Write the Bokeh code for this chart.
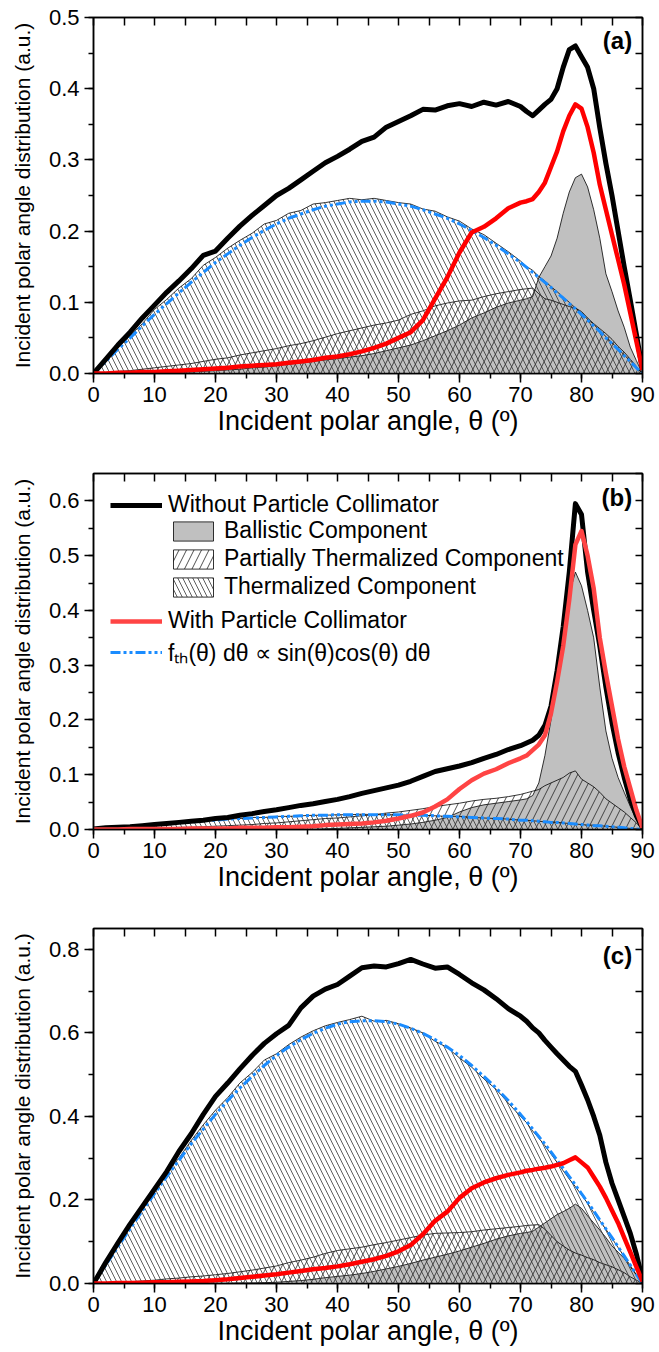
from bokeh.plotting import figure
from bokeh.layouts import column
from bokeh.models import (Range1d, LinearAxis, SingleIntervalTicker, NumeralTickFormatter,
                          CustomJSTickFormatter, Legend, LegendItem, Label)
from bokeh.embed import file_html
from bokeh.resources import INLINE

FONT = "Liberation Sans"

# polar angle grid (degrees)
THETA = [0, 2, 4, 6, 8, 10, 12, 14, 16, 18, 20, 22, 24, 26, 28, 30, 32, 34, 36, 38,
         40, 42, 44, 46, 48, 50, 52, 54, 56, 58, 60, 62, 64, 66, 68,
         70, 71, 72, 73, 74, 75, 76, 77, 78, 79, 80, 81, 82, 83, 84, 85, 86, 87, 88, 89, 90]

# ---------------- panel (a) ----------------
A_TOTAL = [0.000, 0.020, 0.040, 0.058, 0.078, 0.096, 0.114, 0.130, 0.147, 0.166, 0.172, 0.190, 0.207, 0.222, 0.236,
           0.250, 0.260, 0.272, 0.284, 0.296, 0.305, 0.315, 0.326, 0.332, 0.346, 0.354, 0.362, 0.371, 0.370, 0.376,
           0.379, 0.375, 0.381, 0.377, 0.382,
           0.375, 0.368, 0.362, 0.370, 0.378, 0.385, 0.400, 0.430, 0.455, 0.460, 0.445, 0.430, 0.400, 0.345, 0.295,
           0.250, 0.200, 0.150, 0.103, 0.055, 0.005]
A_COLLIM = [0.000, 0.000, 0.001, 0.001, 0.002, 0.002, 0.003, 0.004, 0.005, 0.006, 0.007, 0.008, 0.010, 0.011, 0.012,
            0.013, 0.015, 0.017, 0.019, 0.022, 0.024, 0.027, 0.031, 0.036, 0.042, 0.050, 0.058, 0.075, 0.105, 0.135,
            0.170, 0.198, 0.206, 0.218, 0.232,
            0.240, 0.242, 0.245, 0.255, 0.268, 0.290, 0.312, 0.340, 0.362, 0.378, 0.372, 0.346, 0.310, 0.265, 0.230,
            0.195, 0.160, 0.125, 0.085, 0.045, 0.005]
A_BALLISTIC = [0, 0, 0, 0, 0, 0.001, 0.001, 0.002, 0.002, 0.003, 0.004, 0.005, 0.006, 0.008, 0.009, 0.011, 0.013,
               0.015, 0.017, 0.019, 0.021, 0.023, 0.025, 0.028, 0.032, 0.036, 0.040, 0.046, 0.053, 0.060, 0.068,
               0.078, 0.085, 0.093, 0.099,
               0.103, 0.105, 0.108, 0.135, 0.150, 0.165, 0.190, 0.225, 0.255, 0.275, 0.280, 0.262, 0.230, 0.190,
               0.140, 0.115, 0.088, 0.065, 0.037, 0.018, 0.000]
A_PARTIAL = [0, 0.001, 0.003, 0.004, 0.006, 0.008, 0.010, 0.012, 0.014, 0.017, 0.020, 0.022, 0.026, 0.029, 0.032,
             0.035, 0.039, 0.042, 0.046, 0.051, 0.056, 0.060, 0.064, 0.068, 0.071, 0.075, 0.083, 0.088, 0.095, 0.099,
             0.102, 0.103, 0.108, 0.112, 0.115,
             0.118, 0.119, 0.120, 0.112, 0.105, 0.103, 0.100, 0.097, 0.094, 0.092, 0.087, 0.078, 0.070, 0.063, 0.056,
             0.048, 0.038, 0.030, 0.020, 0.010, 0.000]
A_THERMAL = [0, 0.018, 0.036, 0.053, 0.070, 0.090, 0.104, 0.120, 0.133, 0.152, 0.163, 0.176, 0.187, 0.197, 0.210,
             0.215, 0.225, 0.229, 0.238, 0.240, 0.243, 0.246, 0.244, 0.246, 0.243, 0.240, 0.238, 0.231, 0.228, 0.220,
             0.214, 0.203, 0.195, 0.183, 0.171,
             0.158, 0.150, 0.145, 0.136, 0.130, 0.122, 0.115, 0.107, 0.100, 0.092, 0.085, 0.076, 0.069, 0.060, 0.052,
             0.043, 0.035, 0.026, 0.018, 0.009, 0.000]
A_FIT = [0, 0.017, 0.034, 0.050, 0.067, 0.083, 0.098, 0.113, 0.128, 0.142, 0.156, 0.168, 0.180, 0.191, 0.201, 0.210,
         0.218, 0.224, 0.230, 0.235, 0.238, 0.241, 0.242, 0.242, 0.241, 0.238, 0.235, 0.230, 0.224, 0.218, 0.210,
         0.201, 0.191, 0.180, 0.168,
         0.156, 0.149, 0.142, 0.135, 0.128, 0.121, 0.113, 0.106, 0.098, 0.091, 0.083, 0.075, 0.067, 0.059, 0.050,
         0.042, 0.034, 0.025, 0.017, 0.008, 0.000]

# ---------------- panel (b) ----------------
B_TOTAL = [0.001, 0.003, 0.004, 0.005, 0.007, 0.009, 0.011, 0.013, 0.015, 0.017, 0.020, 0.022, 0.026, 0.029, 0.033,
           0.036, 0.040, 0.044, 0.047, 0.051, 0.055, 0.060, 0.066, 0.071, 0.076, 0.081, 0.088, 0.097, 0.106, 0.111,
           0.116, 0.122, 0.130, 0.137, 0.146,
           0.153, 0.158, 0.163, 0.172, 0.190, 0.225, 0.290, 0.370, 0.470, 0.595, 0.575, 0.470, 0.400, 0.335, 0.260,
           0.195, 0.140, 0.095, 0.055, 0.025, 0.003]
B_COLLIM = [0, 0, 0, 0.001, 0.001, 0.001, 0.001, 0.001, 0.002, 0.002, 0.002, 0.002, 0.003, 0.003, 0.003, 0.004,
            0.004, 0.005, 0.006, 0.008, 0.009, 0.010, 0.011, 0.013, 0.016, 0.020, 0.025, 0.031, 0.042, 0.055, 0.074,
            0.090, 0.102, 0.110, 0.121,
            0.130, 0.135, 0.145, 0.155, 0.172, 0.212, 0.270, 0.335, 0.420, 0.520, 0.545, 0.500, 0.440, 0.350, 0.285,
            0.225, 0.165, 0.115, 0.075, 0.035, 0.003]
B_BALLISTIC = [0, 0, 0, 0, 0, 0, 0, 0, 0, 0, 0, 0, 0, 0, 0, 0, 0, 0, 0, 0.001, 0.002, 0.003, 0.004, 0.005, 0.006,
               0.008, 0.010, 0.013, 0.017, 0.022, 0.032, 0.040, 0.045, 0.048, 0.051,
               0.054, 0.056, 0.062, 0.085, 0.135, 0.200, 0.270, 0.360, 0.430, 0.470, 0.445, 0.400, 0.350, 0.260,
               0.180, 0.130, 0.095, 0.068, 0.042, 0.018, 0.000]
B_PARTIAL = [0, 0, 0.001, 0.001, 0.002, 0.002, 0.003, 0.004, 0.004, 0.005, 0.006, 0.007, 0.008, 0.009, 0.011, 0.012,
             0.014, 0.016, 0.018, 0.020, 0.021, 0.023, 0.025, 0.027, 0.030, 0.032, 0.035, 0.038, 0.042, 0.045, 0.048,
             0.052, 0.055, 0.057, 0.060,
             0.064, 0.067, 0.070, 0.073, 0.080, 0.085, 0.090, 0.095, 0.103, 0.107, 0.092, 0.085, 0.078, 0.068, 0.056,
             0.048, 0.040, 0.032, 0.022, 0.012, 0.000]
B_THERMAL = [0, 0.003, 0.004, 0.006, 0.008, 0.009, 0.011, 0.013, 0.014, 0.016, 0.018, 0.019, 0.020, 0.022, 0.022,
             0.024, 0.024, 0.025, 0.026, 0.026, 0.027, 0.027, 0.028, 0.027, 0.027, 0.027, 0.026, 0.026, 0.025, 0.024,
             0.024, 0.022, 0.021, 0.020, 0.019,
             0.017, 0.017, 0.016, 0.015, 0.014, 0.014, 0.013, 0.012, 0.011, 0.010, 0.009, 0.008, 0.008, 0.007, 0.006,
             0.005, 0.004, 0.003, 0.002, 0.001, 0.000]
B_FIT = [0, 0.002, 0.004, 0.006, 0.007, 0.009, 0.011, 0.013, 0.014, 0.016, 0.017, 0.019, 0.020, 0.021, 0.022, 0.023,
         0.024, 0.025, 0.026, 0.026, 0.027, 0.027, 0.027, 0.027, 0.027, 0.027, 0.026, 0.026, 0.025, 0.024, 0.023,
         0.022, 0.021, 0.020, 0.019,
         0.017, 0.017, 0.016, 0.015, 0.014, 0.013, 0.013, 0.012, 0.011, 0.010, 0.009, 0.008, 0.007, 0.007, 0.006,
         0.005, 0.004, 0.003, 0.002, 0.001, 0.000]

# ---------------- panel (c) ----------------
C_TOTAL = [0, 0.050, 0.097, 0.142, 0.184, 0.226, 0.268, 0.316, 0.358, 0.405, 0.448, 0.480, 0.514, 0.546, 0.575,
           0.598, 0.618, 0.660, 0.688, 0.705, 0.716, 0.736, 0.756, 0.760, 0.758, 0.766, 0.776, 0.765, 0.755, 0.758,
           0.740, 0.720, 0.703, 0.682, 0.658,
           0.640, 0.628, 0.612, 0.600, 0.582, 0.566, 0.550, 0.535, 0.520, 0.508, 0.475, 0.440, 0.400, 0.355, 0.290,
           0.240, 0.200, 0.160, 0.120, 0.070, 0.010]
C_COLLIM = [0, 0, 0.001, 0.001, 0.002, 0.003, 0.003, 0.004, 0.005, 0.006, 0.008, 0.010, 0.013, 0.016, 0.019, 0.022,
            0.026, 0.030, 0.034, 0.037, 0.041, 0.046, 0.052, 0.058, 0.066, 0.077, 0.092, 0.118, 0.150, 0.172, 0.205,
            0.228, 0.242, 0.252, 0.260,
            0.266, 0.270, 0.272, 0.275, 0.277, 0.280, 0.284, 0.288, 0.295, 0.302, 0.290, 0.278, 0.255, 0.232, 0.205,
            0.175, 0.145, 0.110, 0.075, 0.040, 0.005]
C_BALLISTIC = [0, 0, 0, 0, 0, 0, 0, 0, 0, 0, 0, 0, 0.001, 0.001, 0.002, 0.003, 0.005, 0.007, 0.010, 0.014, 0.017,
               0.020, 0.024, 0.029, 0.035, 0.041, 0.048, 0.056, 0.063, 0.070, 0.078, 0.087, 0.096, 0.106, 0.114,
               0.120, 0.122, 0.125, 0.135, 0.145, 0.155, 0.165, 0.172, 0.180, 0.190, 0.180, 0.162, 0.145, 0.128,
               0.110, 0.090, 0.075, 0.060, 0.040, 0.020, 0.000]
C_PARTIAL = [0, 0.001, 0.002, 0.004, 0.006, 0.008, 0.011, 0.013, 0.016, 0.018, 0.021, 0.024, 0.028, 0.032, 0.037,
             0.042, 0.050, 0.056, 0.063, 0.072, 0.079, 0.083, 0.087, 0.093, 0.098, 0.104, 0.110, 0.116, 0.120, 0.121,
             0.122, 0.124, 0.128, 0.131, 0.134,
             0.137, 0.139, 0.140, 0.141, 0.130, 0.115, 0.100, 0.090, 0.080, 0.073, 0.068, 0.062, 0.057, 0.050, 0.045,
             0.040, 0.033, 0.026, 0.016, 0.008, 0.000]
C_THERMAL = [0, 0.045, 0.090, 0.135, 0.180, 0.222, 0.266, 0.300, 0.342, 0.380, 0.415, 0.445, 0.480, 0.505, 0.535,
             0.550, 0.572, 0.590, 0.605, 0.617, 0.625, 0.632, 0.640, 0.628, 0.630, 0.622, 0.612, 0.600, 0.580, 0.565,
             0.540, 0.518, 0.490, 0.465, 0.432,
             0.400, 0.385, 0.365, 0.348, 0.330, 0.310, 0.290, 0.270, 0.250, 0.232, 0.212, 0.192, 0.170, 0.150, 0.130,
             0.108, 0.086, 0.065, 0.043, 0.021, 0.000]
C_FIT = [0, 0.044, 0.088, 0.131, 0.174, 0.215, 0.256, 0.295, 0.334, 0.370, 0.405, 0.438, 0.468, 0.496, 0.522, 0.546,
         0.566, 0.584, 0.599, 0.611, 0.621, 0.627, 0.629, 0.629, 0.627, 0.621, 0.611, 0.599, 0.584, 0.566, 0.546,
         0.522, 0.496, 0.468, 0.438,
         0.405, 0.388, 0.370, 0.352, 0.334, 0.315, 0.295, 0.276, 0.256, 0.236, 0.215, 0.195, 0.174, 0.152, 0.131,
         0.110, 0.088, 0.066, 0.044, 0.022, 0.000]

X_LABEL = "Incident polar angle, \u03b8 (\u00ba)"
Y_LABEL = "Incident polar angle distribution (a.u.)"
LEG_TEXTS = ["Without Particle Collimator", "Ballistic Component", "Partially Thermalized Component",
             "Thermalized Component", "With Particle Collimator",
             "f\u209c\u2095(\u03b8) d\u03b8 \u221d sin(\u03b8)cos(\u03b8) d\u03b8"]

BLACK = "#000000"
GRAY = "#c0c0c0"
BLUE = "#1a8cff"


def style_axis(ax, font_size="22px"):
    ax.axis_line_width = 1.5
    ax.major_tick_line_width = 1.5
    ax.minor_tick_line_width = 1.5
    ax.major_tick_line_color = "black"
    ax.minor_tick_line_color = "black"
    ax.axis_line_color = "black"
    ax.major_label_text_font = FONT
    ax.major_label_text_font_size = font_size
    ax.major_label_text_color = "black"
    ax.axis_label_text_font = FONT
    ax.axis_label_text_font_style = "normal"
    ax.axis_label_text_color = "black"


def mirror_axis(interval, tick_len):
    ax = LinearAxis(ticker=SingleIntervalTicker(interval=interval, num_minor_ticks=0),
                    formatter=CustomJSTickFormatter(code="return ''"))
    ax.major_tick_in = tick_len
    ax.major_tick_out = 0
    ax.minor_tick_in = 0
    ax.minor_tick_out = 0
    ax.major_label_standoff = 0
    ax.axis_line_width = 1.5
    ax.axis_line_color = "black"
    ax.major_tick_line_width = 1.5
    ax.major_tick_line_color = "black"
    ax.major_label_text_font_size = "2px"
    return ax


def make_panel(tag, tag_y, total, collim, ball, part, therm, fit, ymax, ymajor, right_int,
               red, h, top, bottom, legend=False):
    p = figure(width=659, height=h, x_range=Range1d(0, 90), y_range=Range1d(0, ymax),
               output_backend="svg", toolbar_location=None,
               min_border_left=93, min_border_right=17, min_border_top=top, min_border_bottom=bottom,
               x_axis_label=X_LABEL, y_axis_label=Y_LABEL)
    p.xgrid.visible = False
    p.ygrid.visible = False
    p.outline_line_color = "black"
    p.outline_line_width = 1.5
    p.background_fill_color = "white"
    p.border_fill_color = "white"

    xa = p.xaxis[0]
    xa.ticker = SingleIntervalTicker(interval=10, num_minor_ticks=2)
    style_axis(xa)
    xa.major_tick_out = 9
    xa.major_tick_in = 0
    xa.minor_tick_out = 5
    xa.minor_tick_in = 0
    xa.major_label_standoff = 4
    xa.axis_label_standoff = 1
    xa.axis_label_text_font_size = "27px"

    ya = p.yaxis[0]
    ya.ticker = SingleIntervalTicker(interval=ymajor, num_minor_ticks=2)
    ya.formatter = NumeralTickFormatter(format="0.0")
    style_axis(ya)
    ya.major_tick_out = 9
    ya.major_tick_in = 0
    ya.minor_tick_out = 5
    ya.minor_tick_in = 0
    ya.major_label_standoff = 5
    ya.axis_label_standoff = 12
    ya.axis_label_text_font_size = "21px"

    p.add_layout(mirror_axis(5, 8), "above")
    p.add_layout(mirror_axis(right_int, 7), "right")

    r_b = p.patch(THETA, ball, fill_color=GRAY, line_color="black", line_width=0.8)
    r_p = p.patch(THETA, part, fill_color=None, line_color="black", line_width=0.8,
                  hatch_pattern="right_diagonal_line", hatch_scale=15, hatch_weight=0.8, hatch_color="#222222")
    r_t = p.patch(THETA, therm, fill_color=None, line_color="black", line_width=0.8,
                  hatch_pattern="left_diagonal_line", hatch_scale=10, hatch_weight=0.8, hatch_color="#333333")
    r_fit = p.line(THETA, fit, line_color=BLUE, line_width=3, line_dash="10 3 3 3 3 3")
    r_tot = p.line(THETA, total, line_color=BLACK, line_width=5, line_join="round")
    r_col = p.line(THETA, collim, line_color=red, line_width=4.5, line_join="round")

    p.add_layout(Label(x=88.3, y=tag_y, text=tag, text_align="right", text_baseline="middle",
                       text_font=FONT, text_font_size="24px", text_font_style="bold", text_color="black"))

    if legend:
        common = dict(label_text_font=FONT, label_text_font_size="23px", label_text_color="black",
                      label_standoff=6, padding=0, margin=0, border_line_color=None,
                      background_fill_alpha=0, label_height=24, glyph_height=24)
        l1 = Legend(items=[LegendItem(label=LEG_TEXTS[0], renderers=[r_tot])],
                    location=(17, 311), glyph_width=52, spacing=4, **common)
        l2 = Legend(items=[LegendItem(label=LEG_TEXTS[1], renderers=[r_b]),
                           LegendItem(label=LEG_TEXTS[2], renderers=[r_p]),
                           LegendItem(label=LEG_TEXTS[3], renderers=[r_t])],
                    location=(75, 229), glyph_width=50, spacing=1, **common)
        l3 = Legend(items=[LegendItem(label=LEG_TEXTS[4], renderers=[r_col]),
                           LegendItem(label=LEG_TEXTS[5], renderers=[r_fit])],
                    location=(17, 161), glyph_width=52, spacing=2, **common)
        for lg in (l1, l2, l3):
            p.add_layout(lg)
    return p


pa = make_panel("(a)", 0.468, A_TOTAL, A_COLLIM, A_BALLISTIC, A_PARTIAL, A_THERMAL, A_FIT,
                0.5, 0.1, 0.05, "#ff0000", 450, 17, 77)
pb = make_panel("(b)", 0.606, B_TOTAL, B_COLLIM, B_BALLISTIC, B_PARTIAL, B_THERMAL, B_FIT,
                0.65, 0.1, 0.05, "#ff4444", 455, 23, 76, legend=True)
pc = make_panel("(c)", 0.786, C_TOTAL, C_COLLIM, C_BALLISTIC, C_PARTIAL, C_THERMAL, C_FIT,
                0.85, 0.2, 0.1, "#ff0000", 447, 23, 69)

layout = column(pa, pb, pc, spacing=0)
open("out.html", "w").write(file_html(layout, INLINE))
